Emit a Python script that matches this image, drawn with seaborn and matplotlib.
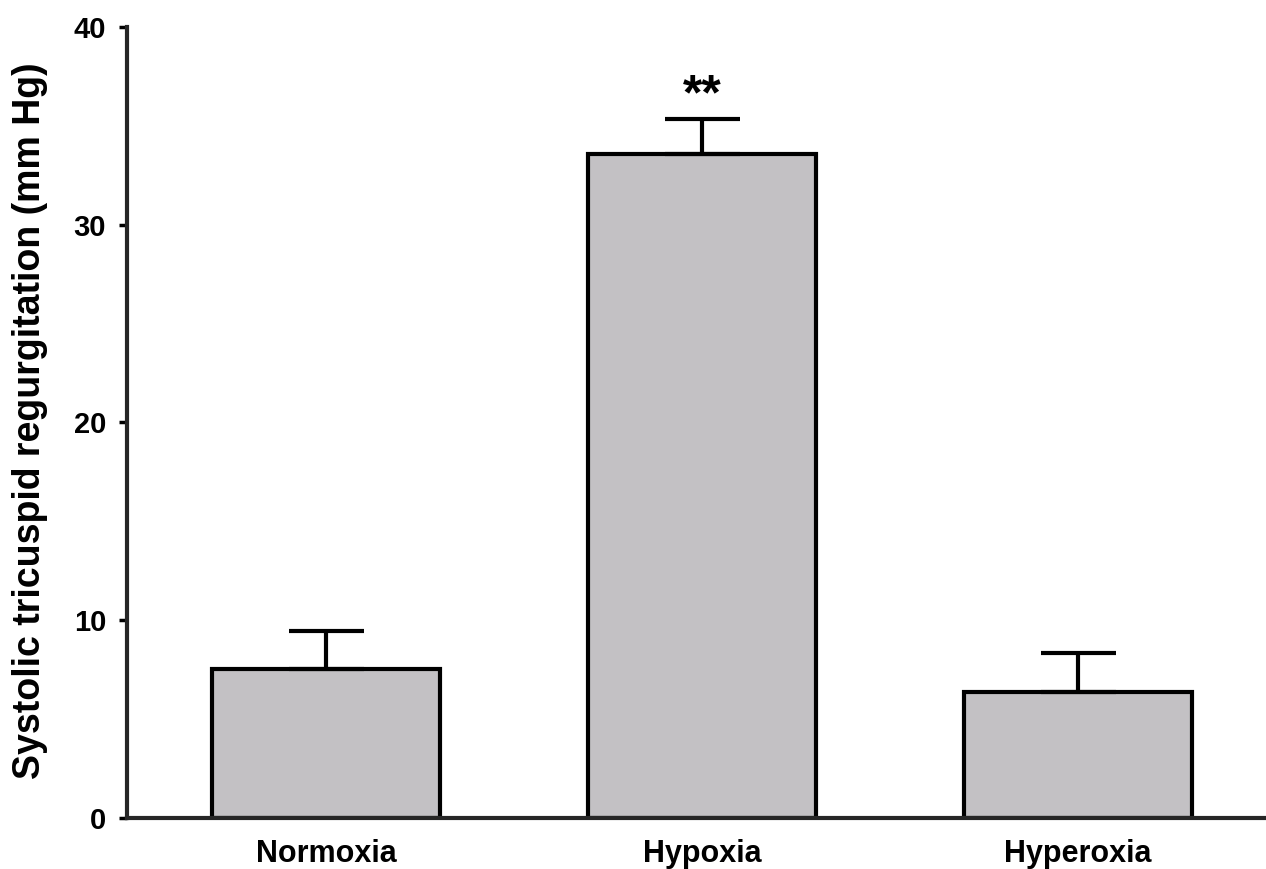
import numpy as np
import pandas as pd
import matplotlib
matplotlib.use("Agg")
import matplotlib.pyplot as plt
import seaborn as sns

# Values
groups = ["Normoxia", "Hypoxia", "Hyperoxia"]
means = [7.55, 33.55, 6.35]
sem = [1.9, 1.8, 2.0]
y_ticks = [0, 10, 20, 30, 40]

df = pd.DataFrame({"group": groups, "value": means})

sns.set_style("ticks")
plt.rcParams['font.family'] = ['Liberation Sans', 'DejaVu Sans']
plt.rcParams['font.weight'] = 'bold'
plt.rcParams['text.color'] = 'black'
plt.rcParams['axes.labelcolor'] = 'black'
plt.rcParams['xtick.color'] = 'black'
plt.rcParams['ytick.color'] = 'black'

fig = plt.figure(figsize=(12.66, 8.69), dpi=100)
ax = fig.add_axes([0.1003, 0.0587, 0.8997, 0.9103])

sns.barplot(data=df, x="group", y="value", color="#c3c1c4", width=0.606,
            edgecolor="black", linewidth=3, errorbar=None, saturation=1, ax=ax)

# one-sided error bars (upward only)
ax.errorbar(np.arange(len(groups)), means, yerr=[np.zeros(len(sem)), sem],
            fmt="none", ecolor="black", elinewidth=3, capsize=27, capthick=3, zorder=1)

ax.text(1, 36.5, "**", ha="center", va="center", fontsize=36, fontweight="bold")

ax.set_xlim(-0.53, 2.5)
ax.set_ylim(0, 40)
ax.set_yticks(y_ticks)
ax.tick_params(axis="y", length=6, width=2.5, labelsize=21, pad=9)
ax.tick_params(axis="x", length=0, labelsize=22, pad=15)
ax.set_xlabel("")
ax.set_ylabel("Systolic tricuspid regurgitation (mm Hg)", fontsize=27,
              fontweight="bold", va="center")
ax.yaxis.set_label_coords(-0.0852, 0.502)

sns.despine(ax=ax)
ax.spines["left"].set_linewidth(3)
ax.spines["bottom"].set_linewidth(3)

fig.savefig("out.png", dpi=100)
